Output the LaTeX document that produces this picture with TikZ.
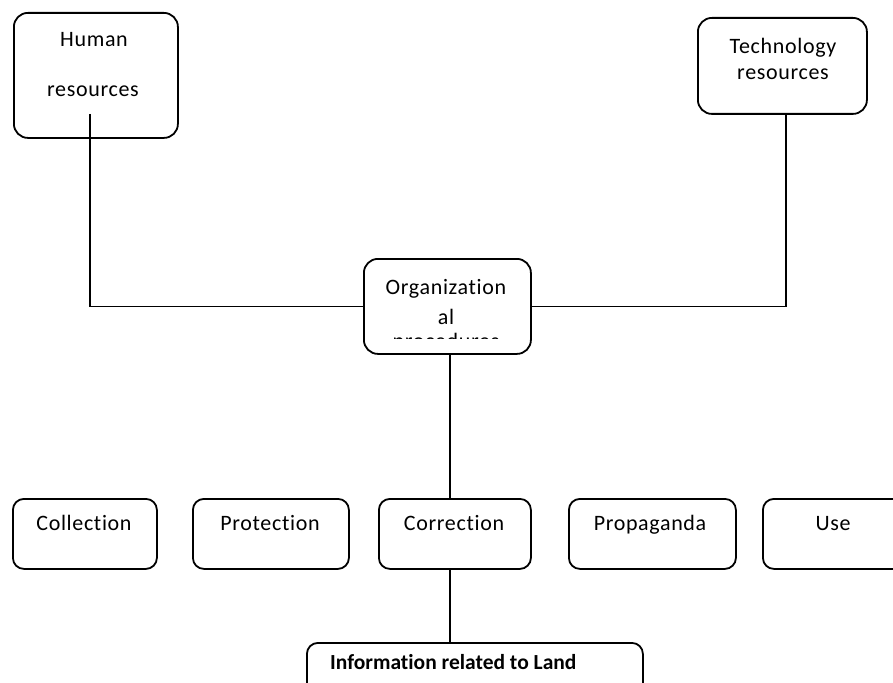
\documentclass[tikz,border=0pt]{standalone}
\usepackage{fontspec}
\setmainfont{Carlito}[Ligatures=NoCommon]
\newfontfamily\spaced{Carlito}[Ligatures=NoCommon,LetterSpace=3]
\begin{document}
\begin{tikzpicture}[x=1pt,y=-1pt,
  box/.style={draw=black,line width=1.8pt,rounded corners=14pt,inner sep=0pt,anchor=north west},
  sbox/.style={box,rounded corners=11pt},
  lab/.style={font=\spaced\fontsize{22}{26}\selectfont,inner sep=0pt,anchor=base},
  conn/.style={draw=black,line width=1.8pt}]
\useasboundingbox (0,0) rectangle (893,682);
\clip (0,0) rectangle (893,682);
% boxes
\node[box,minimum width=164pt,minimum height=125pt] (hr) at (13,12) {};
\node[box,minimum width=169pt,minimum height=96pt] (tr) at (697,17) {};
\node[box,minimum width=167pt,minimum height=95pt] (org) at (363,258) {};
\node[sbox,minimum width=144pt,minimum height=70pt] (col) at (12,498) {};
\node[sbox,minimum width=156pt,minimum height=70pt] (pro) at (192,498) {};
\node[sbox,minimum width=152pt,minimum height=70pt] (cor) at (378,498) {};
\node[sbox,minimum width=167pt,minimum height=70pt] (pgd) at (568,498) {};
\node[sbox,minimum width=142pt,minimum height=70pt] (use) at (762,498) {};
\node[sbox,minimum width=336pt,minimum height=90pt] (info) at (306,642) {};
% texts
\node[lab] (t1) at (94,47) {Human};
\node[lab] (t2) at (93,97) {resources};
\node[lab] (t3) at (783,54) {Technology};
\node[lab] (t4) at (783,80) {resources};
\node[lab] (t5) at (446,294) {Organization};
\node[lab] (t6) at (446,324) {al};
\begin{scope}
\clip (363,300) rectangle (530,338.5);
\node[lab] (t7) at (446,348) {procedures};
\end{scope}
\node[lab] (t8) at (84,530) {Collection};
\node[lab] (t9) at (270,530) {Protection};
\node[lab] (t10) at (454,530) {Correction};
\node[lab] (t11) at (650,530) {Propaganda};
\node[lab] (t12) at (833,530) {Use};
\node[lab,anchor=base west,font=\fontsize{21.5}{25}\selectfont\bfseries] (t13) at (330,669) {Information related to Land};
% connectors
\coordinate (hs) at (90,114);
\coordinate (ts) at (786,113);
\coordinate (vx) at (450,0);
\draw[conn] (hs) |- (org.west);
\draw[conn] (org.east) -| (ts);
\draw[conn] (org.south -| vx) -- (cor.north -| vx);
\draw[conn] (cor.south -| vx) -- (info.north -| vx);
\end{tikzpicture}
\end{document}
